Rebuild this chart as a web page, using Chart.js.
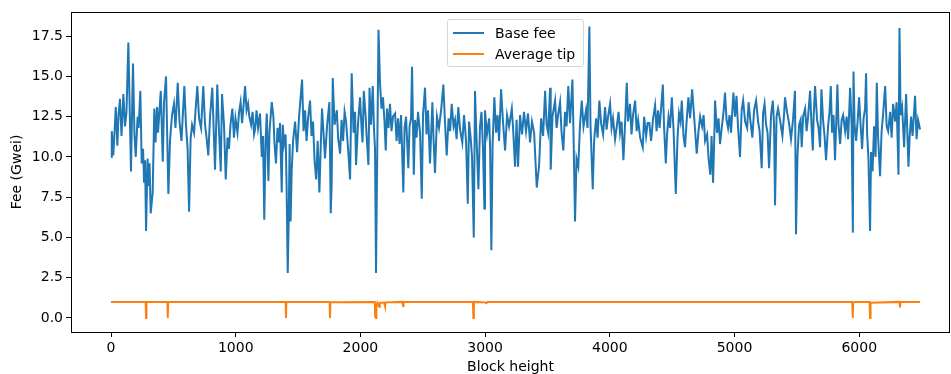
<!DOCTYPE html>
<html lang="en">
<head>
  <meta charset="UTF-8" />
  <title>Base fee and average tip</title>
  <script src="https://cdn.jsdelivr.net/npm/chart.js"></script>
  <style>
    body { margin: 0; background: #fff; font-family: "DejaVu Sans", sans-serif; }
    #wrap { position: relative; width: 951px; height: 374px; }
    #legend {
      position: absolute; left: 447px; top: 19px; width: 135px; height: 46px;
      background: rgba(255,255,255,0.8); border: 1px solid #d6d6d6; border-radius: 3px;
      font-size: 14px; color: #000;
    }
    .item { position: absolute; left: 5px; height: 20px; display: flex; align-items: center; }
    .item span.sw { display: inline-block; width: 31px; height: 2px; margin-right: 11px; }
  </style>
</head>
<body>
  <div id="wrap">
    <canvas id="chart" width="951" height="374"></canvas>
    <div id="legend"></div>
  </div>

  <script>
    // Base fee (block height, Gwei)
    const blocks = [
      0, 6, 18, 28, 38, 51, 60, 72, 84, 99, 112, 124, 139, 160, 176, 188, 198, 213, 221, 235,
      246, 257, 265, 273, 281, 293, 301, 309, 318, 334, 347, 357, 369, 377, 399, 415, 425, 441, 460, 473,
      489, 505, 517, 535, 549, 565, 577, 588, 601, 614, 626, 638, 650, 666, 678, 692, 706, 722, 740, 754,
      766, 780, 794, 812, 834, 852, 866, 880, 890, 906, 920, 934, 946, 958, 973, 986, 998, 1014, 1027, 1039,
      1051, 1063, 1075, 1087, 1099, 1109, 1123, 1135, 1147, 1155, 1167, 1179, 1195, 1209, 1219, 1229, 1239, 1249, 1262, 1271,
      1289, 1302, 1311, 1323, 1335, 1347, 1355, 1369, 1377, 1387, 1400, 1408, 1417, 1425, 1432, 1440, 1449, 1460, 1476, 1492,
      1508, 1532, 1544, 1556, 1568, 1580, 1596, 1608, 1620, 1632, 1645, 1657, 1671, 1681, 1692, 1704, 1716, 1733, 1751, 1762,
      1769, 1778, 1793, 1811, 1821, 1837, 1849, 1861, 1873, 1885, 1901, 1917, 1930, 1945, 1957, 1965, 1981, 1997, 2009, 2017,
      2027, 2041, 2049, 2064, 2073, 2085, 2099, 2109, 2117, 2125, 2145, 2157, 2169, 2181, 2193, 2203, 2213, 2225, 2237, 2249,
      2261, 2278, 2290, 2302, 2314, 2326, 2344, 2354, 2366, 2384, 2394, 2406, 2414, 2428, 2438, 2450, 2462, 2478, 2492, 2502,
      2518, 2530, 2542, 2558, 2577, 2586, 2598, 2614, 2630, 2647, 2665, 2679, 2692, 2707, 2719, 2732, 2747, 2759, 2771, 2785,
      2799, 2817, 2831, 2847, 2861, 2871, 2883, 2895, 2909, 2919, 2931, 2946, 2959, 2971, 2983, 2994, 2999, 3015, 3032, 3040,
      3050, 3060, 3074, 3088, 3100, 3112, 3128, 3144, 3160, 3176, 3192, 3214, 3224, 3240, 3252, 3264, 3280, 3296, 3312, 3328,
      3344, 3360, 3376, 3393, 3414, 3433, 3449, 3465, 3481, 3493, 3505, 3521, 3526, 3540, 3561, 3573, 3585, 3601, 3613, 3627,
      3641, 3653, 3667, 3681, 3700, 3709, 3721, 3733, 3747, 3761, 3775, 3789, 3809, 3821, 3836, 3845, 3863, 3874, 3890, 3902,
      3916, 3930, 3946, 3962, 3974, 3986, 4002, 4014, 4026, 4042, 4056, 4070, 4082, 4094, 4109, 4122, 4136, 4146, 4162, 4174,
      4186, 4203, 4215, 4227, 4243, 4264, 4275, 4291, 4303, 4317, 4331, 4347, 4363, 4375, 4387, 4399, 4411, 4425, 4435, 4449,
      4459, 4471, 4483, 4497, 4511, 4529, 4543, 4555, 4567, 4577, 4591, 4603, 4615, 4630, 4644, 4660, 4676, 4697, 4711, 4724,
      4740, 4752, 4764, 4780, 4792, 4806, 4816, 4828, 4840, 4844, 4860, 4872, 4884, 4900, 4912, 4924, 4936, 4948, 4960, 4972,
      4991, 5004, 5016, 5028, 5044, 5057, 5069, 5085, 5101, 5113, 5125, 5143, 5157, 5173, 5189, 5201, 5218, 5229, 5241, 5253,
      5265, 5277, 5293, 5307, 5317, 5325, 5337, 5349, 5365, 5384, 5397, 5405, 5421, 5437, 5453, 5469, 5485, 5493, 5505, 5518,
      5530, 5539, 5550, 5566, 5578, 5590, 5606, 5618, 5628, 5634, 5646, 5662, 5674, 5686, 5697, 5710, 5722, 5734, 5750, 5762,
      5772, 5782, 5794, 5806, 5825, 5834, 5847, 5859, 5871, 5887, 5899, 5911, 5927, 5939, 5949, 5954, 5963, 5975, 5987, 5999,
      6011, 6023, 6035, 6047, 6055, 6063, 6074, 6087, 6095, 6107, 6119, 6131, 6141, 6151, 6167, 6179, 6191, 6208, 6220, 6232,
      6248, 6260, 6272, 6288, 6300, 6315, 6323, 6332, 6344, 6360, 6376, 6395, 6404, 6416, 6428, 6448, 6460, 6472, 6488
    ];
    const baseFee = [
      10.0, 11.6, 10.1, 11.5, 13.1, 10.7, 12.6, 13.6, 11.3, 13.9, 11.9, 12.8, 17.1, 9.1, 15.8, 11.4, 10.0, 12.5, 11.8, 14.1,
      9.6, 10.5, 8.4, 9.8, 5.4, 9.9, 8.2, 9.6, 6.5, 7.8, 13.0, 10.9, 13.1, 11.5, 14.1, 9.7, 13.4, 15.0, 7.7, 11.0,
      12.6, 13.3, 11.8, 14.6, 12.2, 11.0, 12.8, 14.4, 12.0, 10.5, 6.6, 11.1, 12.0, 11.5, 12.9, 14.4, 12.4, 11.8, 14.4, 12.0,
      11.2, 10.1, 12.5, 14.3, 9.2, 14.5, 11.6, 9.1, 13.9, 12.0, 8.6, 11.2, 10.5, 12.0, 13.0, 11.2, 12.4, 11.5, 12.8, 13.4,
      12.1, 13.2, 14.4, 12.9, 13.3, 12.5, 12.0, 12.8, 11.4, 11.7, 12.9, 11.8, 12.7, 10.0, 11.3, 6.1, 10.9, 12.7, 8.5, 11.6,
      13.4, 12.5, 10.8, 9.6, 11.8, 10.9, 12.1, 7.8, 12.0, 10.8, 11.4, 8.2, 2.8, 6.2, 10.8, 6.0, 9.2, 11.0, 12.2, 10.3,
      12.5, 14.8, 11.6, 12.9, 11.0, 12.4, 13.5, 11.3, 12.2, 9.8, 8.6, 11.0, 7.8, 10.5, 13.0, 11.5, 9.9, 12.0, 13.4, 6.5,
      8.2, 14.9, 12.0, 12.9, 11.2, 10.2, 12.3, 11.0, 12.8, 12.2, 10.5, 8.6, 15.2, 11.5, 12.8, 9.5, 12.1, 13.7, 11.8, 10.9,
      14.1, 12.6, 11.4, 9.5, 14.3, 12.0, 14.4, 11.7, 10.5, 2.8, 17.9, 14.6, 13.0, 13.7, 12.2, 10.4, 13.0, 11.8, 13.3, 11.6,
      12.5, 12.7, 11.0, 12.4, 10.8, 12.6, 7.8, 11.8, 12.5, 9.3, 11.9, 12.4, 15.6, 8.9, 12.3, 11.2, 12.8, 11.5, 7.4, 12.6,
      14.3, 11.4, 12.9, 9.6, 13.4, 11.2, 9.0, 12.5, 11.8, 12.9, 14.5, 12.0, 10.1, 12.4, 11.6, 13.3, 11.9, 12.3, 11.1, 13.1,
      11.7, 10.9, 12.6, 11.0, 7.1, 12.2, 11.3, 10.0, 5.0, 14.1, 11.2, 8.0, 11.9, 12.8, 10.5, 6.8, 12.9, 11.4, 12.4, 10.6,
      4.2, 10.8, 13.7, 11.5, 12.6, 11.0, 14.2, 12.1, 10.4, 12.6, 11.9, 13.0, 11.8, 9.4, 12.3, 9.4, 12.6, 11.4, 12.8, 11.6,
      12.7, 10.9, 12.2, 11.5, 8.1, 9.5, 12.4, 11.3, 14.1, 12.0, 11.5, 14.3, 9.2, 12.5, 13.5, 11.8, 12.6, 13.4, 11.5, 10.4,
      12.8, 11.9, 14.4, 12.1, 14.8, 11.4, 6.0, 9.9, 9.4, 12.0, 13.5, 11.9, 12.9, 11.8, 18.1, 12.0, 8.0, 11.0, 12.4, 11.2,
      13.5, 12.1, 11.4, 13.1, 11.7, 12.5, 13.3, 11.8, 12.4, 11.1, 11.9, 12.8, 11.5, 12.2, 9.8, 12.0, 14.6, 12.2, 13.3, 11.4,
      12.6, 13.5, 11.6, 12.3, 11.2, 10.6, 12.5, 11.3, 12.1, 12.1, 11.0, 12.4, 13.2, 11.6, 12.9, 11.8, 13.0, 14.5, 11.9, 9.6,
      11.4, 12.5, 11.8, 13.7, 11.7, 7.7, 11.2, 12.7, 12.2, 13.5, 11.3, 10.6, 12.1, 13.7, 12.4, 14.2, 12.5, 10.2, 11.6, 12.5,
      11.9, 12.6, 11.0, 11.4, 9.9, 8.9, 11.3, 8.4, 11.9, 13.5, 11.5, 12.4, 10.8, 12.0, 12.8, 14.0, 12.3, 11.8, 12.6, 11.5,
      14.0, 12.5, 13.8, 11.9, 10.0, 12.9, 13.5, 12.2, 11.8, 13.4, 12.4, 11.2, 12.9, 13.5, 12.2, 11.6, 9.3, 12.7, 13.3, 12.0,
      11.5, 9.3, 12.6, 13.5, 12.0, 7.0, 12.5, 13.0, 12.3, 11.3, 12.6, 13.7, 12.8, 12.1, 11.1, 12.3, 14.1, 5.2, 10.1, 12.0,
      12.3, 10.6, 12.5, 13.0, 11.6, 12.5, 14.1, 11.9, 10.4, 12.4, 14.4, 12.3, 11.8, 10.6, 14.2, 12.3, 11.3, 9.8, 11.9, 12.8,
      14.4, 11.5, 12.6, 9.8, 14.5, 12.0, 10.8, 12.3, 12.6, 11.6, 12.5, 11.1, 14.3, 12.0, 5.3, 15.3, 12.0, 11.0, 12.2, 13.7,
      12.0, 10.5, 12.4, 13.0, 15.2, 11.5, 9.9, 5.4, 10.3, 9.1, 11.9, 10.0, 14.6, 11.3, 8.8, 11.5, 12.6, 14.4, 11.9, 11.6,
      12.8, 11.2, 13.3, 12.2, 13.4, 8.9, 18.0, 12.6, 13.1, 10.6, 13.9, 9.4, 11.2, 12.5, 11.3, 13.8, 11.1, 12.3, 11.7
    ];

    // Average tip: flat near 1 Gwei with a few drops
    const tipBlocks = [
      0, 278, 281, 284, 452, 455, 458, 1400, 1403, 1406, 1753, 1756, 1759, 1770,
      2115, 2118, 2121, 2125, 2128, 2135, 2150, 2155, 2190, 2197, 2202, 2338, 2342, 2346,
      2902, 2906, 2910, 3000, 3010, 3020, 5944, 5948, 5952, 5965, 6083, 6087, 6091, 6323, 6327, 6331, 6488
    ];
    const avgTip = [
      1.0, 1.0, 0.0, 1.0, 1.0, 0.0, 1.0, 1.0, 0.0, 1.0, 1.0, 0.0, 0.95, 0.98,
      1.0, 0.1, 0.9, 0.0, 0.8, 0.95, 0.7, 0.95, 0.95, 0.75, 0.97, 1.0, 0.75, 1.0,
      1.0, 0.0, 1.0, 0.97, 0.92, 1.0, 1.0, 0.0, 0.95, 1.0, 1.0, 0.0, 0.95, 1.0, 0.65, 1.0, 1.0
    ];

    const xTicks = [0, 1000, 2000, 3000, 4000, 5000, 6000];
    const yTicks = [0, 2.5, 5, 7.5, 10, 12.5, 15, 17.5];

    const series = [
      { label: 'Base fee', xs: blocks, ys: baseFee, color: '#1f77b4' },
      { label: 'Average tip', xs: tipBlocks, ys: avgTip, color: '#ff7f0e' }
    ];

    const font = { family: 'DejaVu Sans', size: 14, lineHeight: 1 };

    // box round the plot, like matplotlib spines
    const frame = {
      id: 'frame',
      afterDraw(chart) {
        const { ctx, chartArea: a } = chart;
        ctx.save();
        ctx.strokeStyle = '#000';
        ctx.lineWidth = 1;
        ctx.strokeRect(a.left + 0.5, a.top + 0.5, a.right - a.left - 1, a.bottom - a.top);
        ctx.restore();
      }
    };

    new Chart(document.getElementById('chart'), {
      type: 'line',
      data: {
        datasets: series.map(s => ({
          label: s.label,
          data: s.xs.map((x, i) => ({ x, y: s.ys[i] })),
          borderColor: s.color,
          borderWidth: 2,
          pointRadius: 0,
          tension: 0,
          fill: false
        }))
      },
      options: {
        responsive: false,
        animation: false,
        events: [],
        layout: { padding: { top: 12, right: 1, left: 0, bottom: 0 } },
        plugins: { legend: { display: false }, tooltip: { enabled: false } },
        scales: {
          x: {
            type: 'linear',
            min: -321,
            max: 6728,
            afterFit: s => { s.height = 42; },
            afterBuildTicks: s => { s.ticks = xTicks.map(v => ({ value: v })); },
            ticks: { font, color: '#000', padding: 4, maxRotation: 0, callback: v => String(v) },
            grid: { drawOnChartArea: false, color: '#000', tickLength: 5 },
            border: { display: false },
            title: { display: true, text: 'Block height', font, color: '#000', padding: { top: 0, bottom: 0 } }
          },
          y: {
            min: -0.87,
            max: 19.0,
            afterFit: s => { s.width = 71; },
            afterBuildTicks: s => { s.ticks = yTicks.map(v => ({ value: v })); },
            ticks: { font, color: '#000', padding: 3, callback: v => Number(v).toFixed(1) },
            grid: { drawOnChartArea: false, color: '#000', tickLength: 5 },
            border: { display: false },
            title: { display: true, text: 'Fee (Gwei)', font, color: '#000', padding: { top: 10, bottom: 0 } }
          }
        }
      },
      plugins: [frame]
    });

    // legend box inside the plot, upper centre
    const legend = document.getElementById('legend');
    series.forEach((s, i) => {
      const row = document.createElement('div');
      row.className = 'item';
      row.style.top = (3 + i * 21) + 'px';
      row.innerHTML = '<span class="sw" style="background:' + s.color + '"></span>' + s.label;
      legend.appendChild(row);
    });
  </script>
</body>
</html>
